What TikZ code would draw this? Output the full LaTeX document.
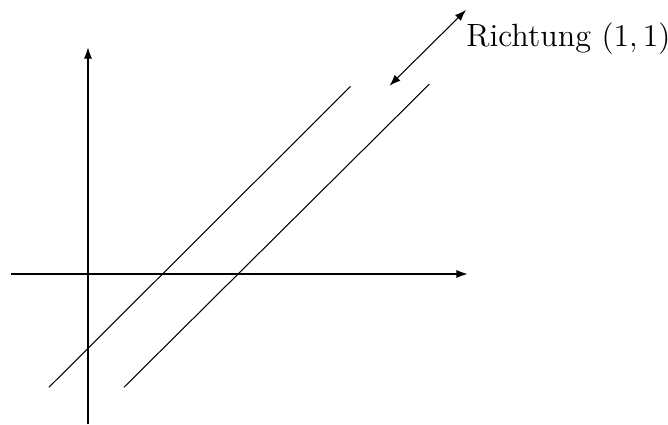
\documentclass[tikz,border=0pt]{standalone}
\usepackage{amsmath}
\usetikzlibrary{arrows.meta}
\tikzset{
  axis/.style={thin, -{Latex[length=1.5mm, width=1.1mm]}},
  line/.style={thin},
  dirarrow/.style={thin, {Latex[length=1.5mm, width=1.1mm]}-{Latex[length=1.5mm, width=1.1mm]}},
}

\begin{document}
\begin{tikzpicture}[every node/.style={font=\fontsize{12.2}{14}\selectfont}]
\useasboundingbox (-1.173,-2) rectangle (7.733,3.653);

%% Axes
\draw[axis] (-1.03,0) -- (5.06,0);
\draw[axis] (0,-2) -- (0,3.02);

%% Parallel lines y = x - 1 and y = x - 2
\draw[line] (-0.52,-1.51) -- (3.5,2.5);
\draw[line] (0.48,-1.51) -- (4.55,2.53);

%% Direction (1,1)
\coordinate (dirA) at (4.02,2.51);
\coordinate (dirB) at (5.04,3.52);
\draw[dirarrow] (dirA) -- (dirB);
\node[anchor=base west] (richtung) at (4.92,3.03) {Richtung $(1,1)$};

\end{tikzpicture}
\end{document}
